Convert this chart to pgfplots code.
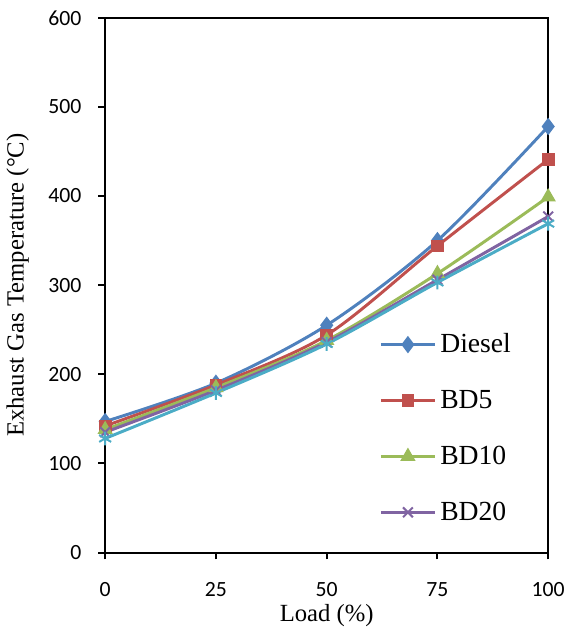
\documentclass[border=0pt]{standalone}
\usepackage{fontspec}
\setmainfont{Liberation Serif}
\newfontfamily\calibri{Carlito}
\usepackage{pgfplots}
\pgfplotsset{compat=1.18}

\definecolor{xlblue}{HTML}{4F81BD}
\definecolor{xlred}{HTML}{C0504D}
\definecolor{xlgreen}{HTML}{9BBB59}
\definecolor{xlpurple}{HTML}{8064A2}
\definecolor{xlcyan}{HTML}{4BACC6}

\begin{document}
\begin{tikzpicture}
\begin{axis}[
    scale only axis,
    width=224.5pt, height=271pt,
    xmin=0, xmax=100, ymin=0, ymax=600,
    xtick={0,25,50,75,100},
    ytick={0,100,...,600},
    tick align=outside,
    xtick pos=bottom, ytick pos=left,
    major tick length=3.5pt,
    axis line style={line width=1pt},
    every tick/.style={black, line width=1pt},
    /pgf/number format/assume math mode=true,
    ticklabel style={font=\fontsize{11}{13}\selectfont\calibri},
    xticklabel style={yshift=-8pt},
    yticklabel style={xshift=-5pt},
    xlabel={Load (\%)},
    ylabel={Exhaust Gas Temperature (°C)},
    label style={font=\fontsize{12.5}{14}\selectfont},
    xlabel style={yshift=3pt},
    ylabel style={yshift=3pt},
    legend style={at={(0.605,0.425)}, anchor=north west, draw=none, fill=none,
        font=\fontsize{14}{16}\selectfont, row sep=13.5pt,
        /tikz/every even column/.append style={column sep=1pt}},
    legend cell align=left,
    legend image code/.code={
        \draw[mark repeat=2,mark phase=2] plot coordinates {(0cm,0cm) (0.48cm,0cm) (0.96cm,0cm)};},
    every axis plot/.append style={line width=1.5pt, smooth},
]
\addplot[color=xlblue, mark=diamond*, mark size=3.2pt, mark options={solid, fill=xlblue}]
    coordinates {(0,147) (25,190) (50,255) (75,350) (100,478)};
\addlegendentry{Diesel}
\addplot[color=xlred, mark=square*, mark size=2.5pt, mark options={solid, fill=xlred}]
    coordinates {(0,142) (25,188) (50,244) (75,344) (100,441)};
\addlegendentry{BD5}
\addplot[color=xlgreen, mark=triangle*, mark size=3pt, mark options={solid, fill=xlgreen}]
    coordinates {(0,138) (25,185) (50,238) (75,313) (100,399)};
\addlegendentry{BD10}
\addplot[color=xlpurple, mark=x, mark size=3.5pt, mark options={solid, line width=1pt}]
    coordinates {(0,135) (25,182) (50,236) (75,306) (100,377)};
\addlegendentry{BD20}
\addplot[color=xlcyan, mark=asterisk, mark size=3.5pt, mark options={solid, line width=1pt}, forget plot]
    coordinates {(0,128) (25,179) (50,234) (75,303) (100,369)};
\end{axis}
% a little white room above the axis, as in the reference
\path ([yshift=9pt]current axis.north);
\end{tikzpicture}
\end{document}
